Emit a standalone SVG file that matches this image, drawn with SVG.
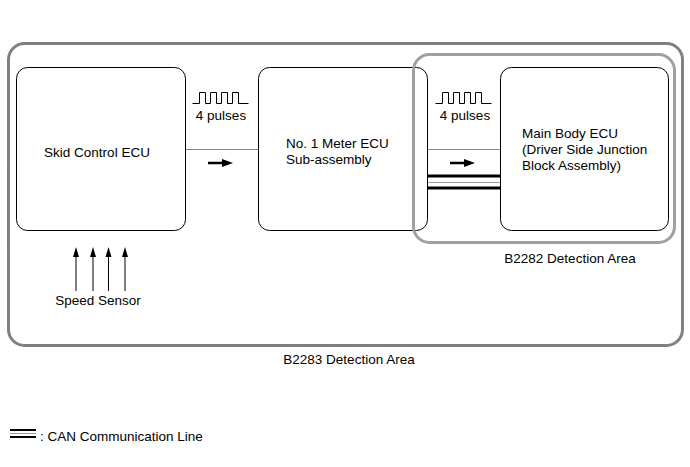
<svg xmlns="http://www.w3.org/2000/svg" width="690" height="467" viewBox="0 0 690 467">
<style>
text{font-family:"Liberation Sans",Arial,sans-serif;font-size:13.5px;fill:#000}
.box{fill:#fff;stroke:#000;stroke-width:1}
.area{fill:none;stroke:#808080;stroke-width:3}
.area2{fill:none;stroke:#a0a0a0;stroke-width:3}
.wire{stroke:#888;stroke-width:1;fill:none}
.pulse{stroke:#000;stroke-width:1;fill:none}
.can{stroke:#000;stroke-width:3}
.canm{stroke:#999;stroke-width:1}
.sens{stroke:#000;stroke-width:1}
.head{fill:#000}
</style>
<rect id="b2283" class="area" x="8.5" y="43.5" width="674" height="302" rx="16"/>
<text x="349" y="364" text-anchor="middle">B2283 Detection Area</text>
<g id="connectors">
<line class="wire" x1="185" y1="149.5" x2="258" y2="149.5"/>
<line class="wire" x1="427" y1="149.5" x2="500" y2="149.5"/>
<line class="can" x1="427" y1="176" x2="500" y2="176"/>
<line class="canm" x1="427" y1="182.5" x2="500" y2="182.5"/>
<line class="can" x1="427" y1="188" x2="500" y2="188"/>
<path d="M208 163 H224" stroke="#000" stroke-width="2.5"/>
<path d="M222 159 L233 163 L222 167 Z" class="head"/>
<path d="M450 163 H466" stroke="#000" stroke-width="2.5"/>
<path d="M464 159 L475 163 L464 167 Z" class="head"/>
<line class="sens" x1="76" y1="291" x2="76" y2="255"/>
<path class="head" d="M76 247 L79 257 L73 257 Z"/>
<line class="sens" x1="93" y1="291" x2="93" y2="255"/>
<path class="head" d="M93 247 L96 257 L90 257 Z"/>
<line class="sens" x1="108.5" y1="291" x2="108.5" y2="255" stroke="#777"/>
<path class="head" d="M108.5 247 L111.5 257 L105.5 257 Z"/>
<line class="sens" x1="125" y1="291" x2="125" y2="255"/>
<path class="head" d="M125 247 L128 257 L122 257 Z"/>
</g>
<g id="pulses1">
<path class="pulse" d="M192.5 103.5 H199.5 V92.5 H205.5 V103.5 H210.5 V92.5 H216.5 V103.5 H221.5 V92.5 H227.5 V103.5 H232.5 V92.5 H238.5 V103.5 H248.5"/>
<text x="221" y="120" text-anchor="middle">4 pulses</text>
</g>
<g id="pulses2">
<path class="pulse" d="M435.5 103.5 H442.5 V92.5 H448.5 V103.5 H453.5 V92.5 H459.5 V103.5 H464.5 V92.5 H470.5 V103.5 H475.5 V92.5 H481.5 V103.5 H491.5"/>
<text x="465" y="120" text-anchor="middle">4 pulses</text>
</g>
<g id="skid">
<rect class="box" x="16.5" y="67.5" width="169" height="163" rx="11"/>
<text x="97" y="157" text-anchor="middle">Skid Control ECU</text>
</g>
<g id="meter">
<rect class="box" x="258.5" y="67.5" width="169" height="163" rx="11"/>
<text x="286" y="148">No. 1 Meter ECU</text>
<text x="286" y="164">Sub-assembly</text>
</g>
<g id="mainbody">
<rect class="box" x="500.5" y="67.5" width="168" height="163" rx="11"/>
<text x="522" y="138">Main Body ECU</text>
<text x="522" y="154">(Driver Side Junction</text>
<text x="522" y="170">Block Assembly)</text>
</g>
<g id="b2282">
<rect class="area2" x="413.5" y="54.5" width="261" height="188" rx="16"/>
<text x="570" y="263" text-anchor="middle">B2282 Detection Area</text>
</g>
<g id="speed">
<text x="98" y="305" text-anchor="middle">Speed Sensor</text>
</g>
<g id="legend">
<line x1="10" y1="430" x2="36" y2="430" stroke="#000" stroke-width="2"/>
<line x1="10" y1="433.5" x2="36" y2="433.5" stroke="#999" stroke-width="1"/>
<line x1="10" y1="437" x2="36" y2="437" stroke="#000" stroke-width="2"/>
<text x="40" y="441">: CAN Communication Line</text>
</g>
</svg>
